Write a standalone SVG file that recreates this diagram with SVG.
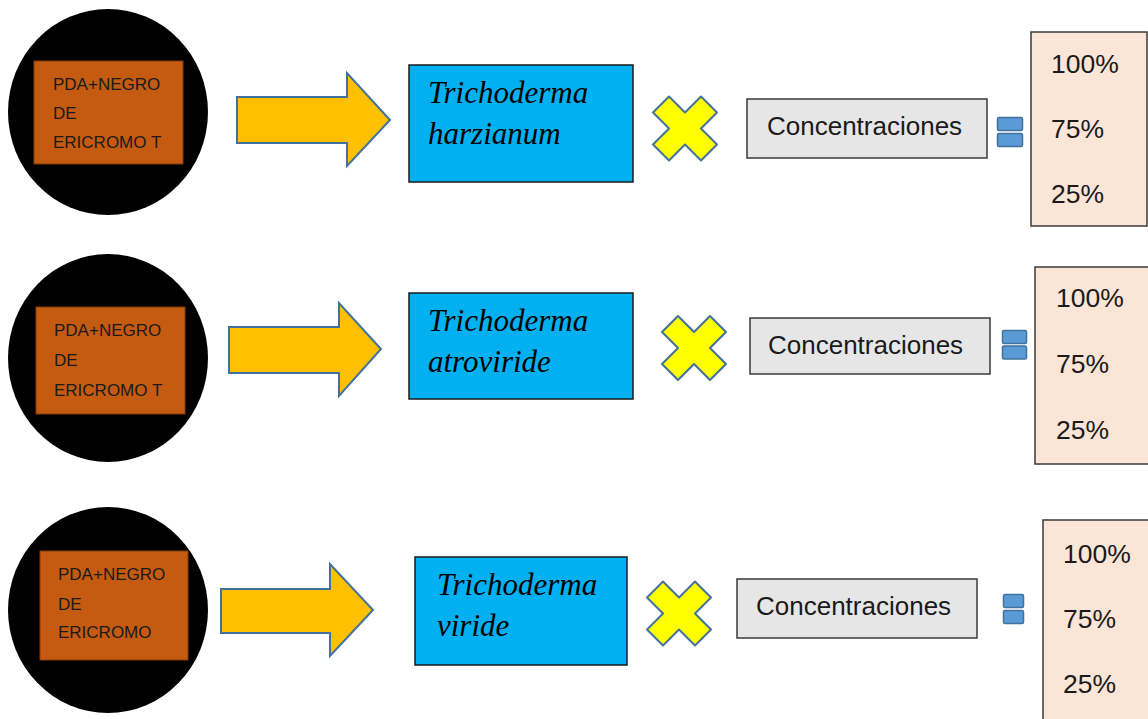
<svg xmlns="http://www.w3.org/2000/svg" width="1148" height="719" viewBox="0 0 1148 719">
<defs>
<style>
.disc{fill:#000000;}
.med{fill:#c55a11;stroke:#843c0c;stroke-width:1;}
.medt{font-family:"Liberation Sans",Arial,sans-serif;font-size:17px;fill:#1a1a1a;}
.arrow{fill:#ffc000;stroke:#41719c;stroke-width:2;stroke-linejoin:miter;}
.sp{fill:#00b0f0;stroke:#1a1a1a;stroke-width:1.5;}
.spt{font-family:"Liberation Serif","Times New Roman",serif;font-style:italic;font-size:31px;fill:#000000;}
.mul{fill:#ffff00;stroke:#41719c;stroke-width:2;stroke-linejoin:round;}
.conc{fill:#e7e6e6;stroke:#3a3a3a;stroke-width:1.5;}
.conct{font-family:"Liberation Sans",Arial,sans-serif;font-size:26px;fill:#1a1a1a;}
.eq{fill:#5b9bd5;stroke:#41719c;stroke-width:1.5;}
.pct{fill:#fbe5d6;stroke:#3a3a3a;stroke-width:1.5;}
.pctt{font-family:"Liberation Sans",Arial,sans-serif;font-size:26.5px;fill:#1a1a1a;}
</style>
<polygon id="xshape" points="-32,-16 -16,-32 0,-16 16,-32 32,-16 16,0 32,16 16,32 0,16 -16,32 -32,16 -16,0"/>
</defs>
<rect width="1148" height="719" fill="#ffffff"/>

<!-- Row 1 -->
<g id="medium1">
<ellipse class="disc" cx="108" cy="112" rx="100" ry="103"/>
<rect class="med" x="34" y="61" width="149" height="103"/>
<text class="medt" x="53" y="90">PDA+NEGRO</text>
<text class="medt" x="53" y="119">DE</text>
<text class="medt" x="53" y="148">ERICROMO T</text>
</g>
<g id="species1">
<rect class="sp" x="409" y="65" width="224" height="117"/>
<text class="spt" x="428" y="103">Trichoderma</text>
<text class="spt" x="428" y="144">harzianum</text>
</g>
<g id="conc1">
<rect class="conc" x="747" y="99" width="240" height="59"/>
<text class="conct" x="767" y="135">Concentraciones</text>
</g>
<g id="pct1">
<rect class="pct" x="1031" y="32" width="116" height="194"/>
<text class="pctt" x="1051" y="73">100%</text>
<text class="pctt" x="1051" y="138">75%</text>
<text class="pctt" x="1051" y="203">25%</text>
</g>

<!-- Row 2 -->
<g id="medium2">
<ellipse class="disc" cx="108" cy="358" rx="100" ry="104"/>
<rect class="med" x="36" y="307" width="149" height="107"/>
<text class="medt" x="54" y="336">PDA+NEGRO</text>
<text class="medt" x="54" y="366">DE</text>
<text class="medt" x="54" y="396">ERICROMO T</text>
</g>
<g id="species2">
<rect class="sp" x="409" y="293" width="224" height="106"/>
<text class="spt" x="428" y="331">Trichoderma</text>
<text class="spt" x="428" y="372">atroviride</text>
</g>
<g id="conc2">
<rect class="conc" x="750" y="318" width="240" height="56"/>
<text class="conct" x="768" y="354">Concentraciones</text>
</g>
<g id="pct2">
<rect class="pct" x="1035" y="267" width="120" height="197"/>
<text class="pctt" x="1056" y="307">100%</text>
<text class="pctt" x="1056" y="373">75%</text>
<text class="pctt" x="1056" y="439">25%</text>
</g>

<!-- Row 3 -->
<g id="medium3">
<ellipse class="disc" cx="108" cy="610" rx="100" ry="103"/>
<rect class="med" x="40" y="551" width="148" height="109"/>
<text class="medt" x="58" y="580">PDA+NEGRO</text>
<text class="medt" x="58" y="610">DE</text>
<text class="medt" x="58" y="638">ERICROMO</text>
</g>
<g id="species3">
<rect class="sp" x="415" y="557" width="212" height="108"/>
<text class="spt" x="437" y="595">Trichoderma</text>
<text class="spt" x="437" y="636">viride</text>
</g>
<g id="conc3">
<rect class="conc" x="737" y="579" width="240" height="59"/>
<text class="conct" x="756" y="615">Concentraciones</text>
</g>
<g id="pct3">
<rect class="pct" x="1043" y="520" width="120" height="210"/>
<text class="pctt" x="1063" y="563">100%</text>
<text class="pctt" x="1063" y="628">75%</text>
<text class="pctt" x="1063" y="693">25%</text>
</g>

<!-- Connectors / operators -->
<g id="connectors">
<polygon class="arrow" points="237,97 347,97 347,73 390,120 347,166 347,143 237,143"/>
<polygon class="arrow" points="229,327 339,327 339,303 381,349 339,396 339,373 229,373"/>
<polygon class="arrow" points="221,589 330,589 330,564 373,610 330,656 330,633 221,633"/>
<use href="#xshape" class="mul" transform="translate(685,128.5)"/>
<use href="#xshape" class="mul" transform="translate(694,348)"/>
<use href="#xshape" class="mul" transform="translate(679,613.5)"/>
<rect class="eq" x="997.5" y="117.5" width="25" height="13" rx="1.5"/>
<rect class="eq" x="997.5" y="133.5" width="25" height="13" rx="1.5"/>
<rect class="eq" x="1002.5" y="330.5" width="24" height="13" rx="1.5"/>
<rect class="eq" x="1002.5" y="346" width="24" height="13" rx="1.5"/>
<rect class="eq" x="1003.5" y="594.5" width="20" height="13" rx="1.5"/>
<rect class="eq" x="1003.5" y="610.5" width="20" height="13" rx="1.5"/>
</g>
</svg>
